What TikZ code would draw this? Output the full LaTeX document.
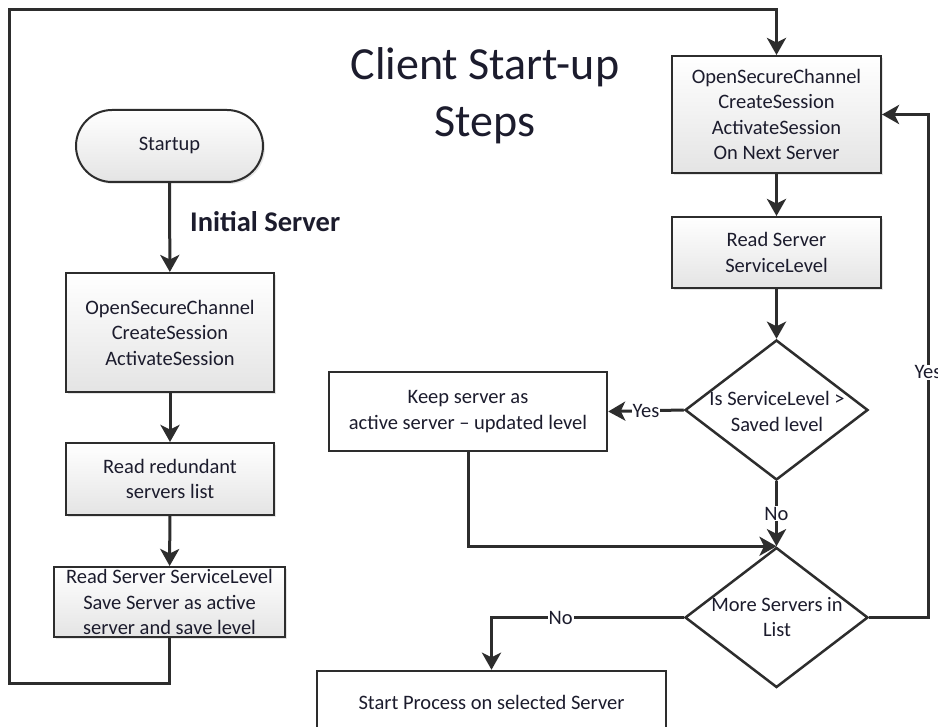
\documentclass[tikz,border=0pt]{standalone}
\usepackage{fontspec}
\setmainfont{Carlito}
\usetikzlibrary{arrows.meta,shapes.geometric,shadows}
\definecolor{linecol}{RGB}{45,45,45}
\definecolor{txtcol}{RGB}{28,28,45}
\definecolor{boxbot}{RGB}{228,228,228}
\tikzset{
  conn/.style={draw=linecol,line width=3pt,-{Stealth[length=17pt,width=19pt,inset=4.5pt]}},
  gbox/.style={draw=linecol,line width=2pt,top color=white,bottom color=boxbot,
     text=txtcol,align=center,inner sep=0pt,
     font=\fontsize{20.5}{25.5}\selectfont,
     drop shadow={opacity=0.2,shadow xshift=2pt,shadow yshift=-2pt}},
  wbox/.style={draw=linecol,line width=2.5pt,fill=white,text=txtcol,align=center,inner sep=0pt,
     font=\fontsize{20.5}{25.5}\selectfont},
  decision/.style={diamond,draw=linecol,line width=2.5pt,fill=white,inner sep=0pt,
     minimum width=183pt,minimum height=140pt},
  dtext/.style={text=txtcol,align=center,font=\fontsize{20.5}{25.5}\selectfont,inner sep=0pt},
  lbl/.style={fill=white,text=txtcol,inner sep=1pt,font=\fontsize{20.5}{24}\selectfont},
}
\begin{document}
\begin{tikzpicture}[x=1pt,y=-1pt]
\useasboundingbox (0,0) rectangle (938,727);
\clip (0,0) rectangle (938,727);
\fill[white] (0,0) rectangle (938,727);

% title
\node[text=txtcol,align=center,font=\fontsize{46}{57}\selectfont] (title) at (485,96) {Client Start-up\\Steps};

% left column
\node[gbox,rounded corners=36pt,minimum width=187pt,minimum height=72pt] (startup) at (169.5,146) {Startup};
\node[gbox,minimum width=208pt,minimum height=119pt] (b1) at (170,332.5) {OpenSecureChannel\\CreateSession\\ActivateSession};
\node[gbox,minimum width=208pt,minimum height=72pt] (b2) at (170,479) {Read redundant\\servers list};
\node[gbox,minimum width=231pt,minimum height=70pt] (b3) at (169.5,602) {Read Server ServiceLevel\\Save Server as active\\server and save level};
\node[text=txtcol,font=\bfseries\fontsize{28.5}{34}\selectfont,anchor=west,inner sep=0pt] (initlbl) at (190,222) {Initial Server};

% right column
\node[gbox,minimum width=209pt,minimum height=117pt] (r1) at (776.5,114.5) {OpenSecureChannel\\CreateSession\\ActivateSession\\On Next Server};
\node[gbox,minimum width=209pt,minimum height=71pt] (r2) at (776.5,252.5) {Read Server\\ServiceLevel};
\node[decision] (d1) at (776.5,410) {};
\node[dtext] (d1t) at (777,411.5) {Is ServiceLevel >\\Saved level};
\node[wbox,minimum width=278pt,minimum height=79pt] (keep) at (468,411.5) {Keep server as\\active server -- updated level};
\node[decision] (d2) at (776.5,617.5) {};
\node[dtext] (d2t) at (777,617) {More Servers in\\List};
\node[wbox,minimum width=349pt,minimum height=62pt] (start) at (491.5,702) {Start Process on selected Server};

% connectors
\draw[conn] (startup) -- (b1);
\draw[conn] (b1) -- (b2);
\draw[conn] (b2) -- (b3);
\coordinate (o1) at (169.5,683);
\coordinate (o2) at (9,683);
\coordinate (o3) at (9,10);
\coordinate (o4) at (776.5,10);
\draw[conn] (b3.south) -- (o1) -- (o2) -- (o3) -- (o4) -- (r1.north);
\draw[conn] (r1) -- (r2);
\draw[conn] (r2) -- (d1.north);
\draw[conn] (d1.west) -- node[lbl]{Yes} (keep.east);
\draw[conn] (keep.south) |- (d2.north);
\draw[conn] (d1.south) -- node[lbl]{No} (d2.north);
\draw[conn] (d2.west) -| node[lbl,pos=0.32]{No} (start.north);
\coordinate (y1) at (928,617.5);
\coordinate (y2) at (928,114.5);
\draw[conn] (d2.east) -- (y1) -- node[lbl,pos=0.4876]{Yes} (y2) -- (r1.east);
\end{tikzpicture}
\end{document}
